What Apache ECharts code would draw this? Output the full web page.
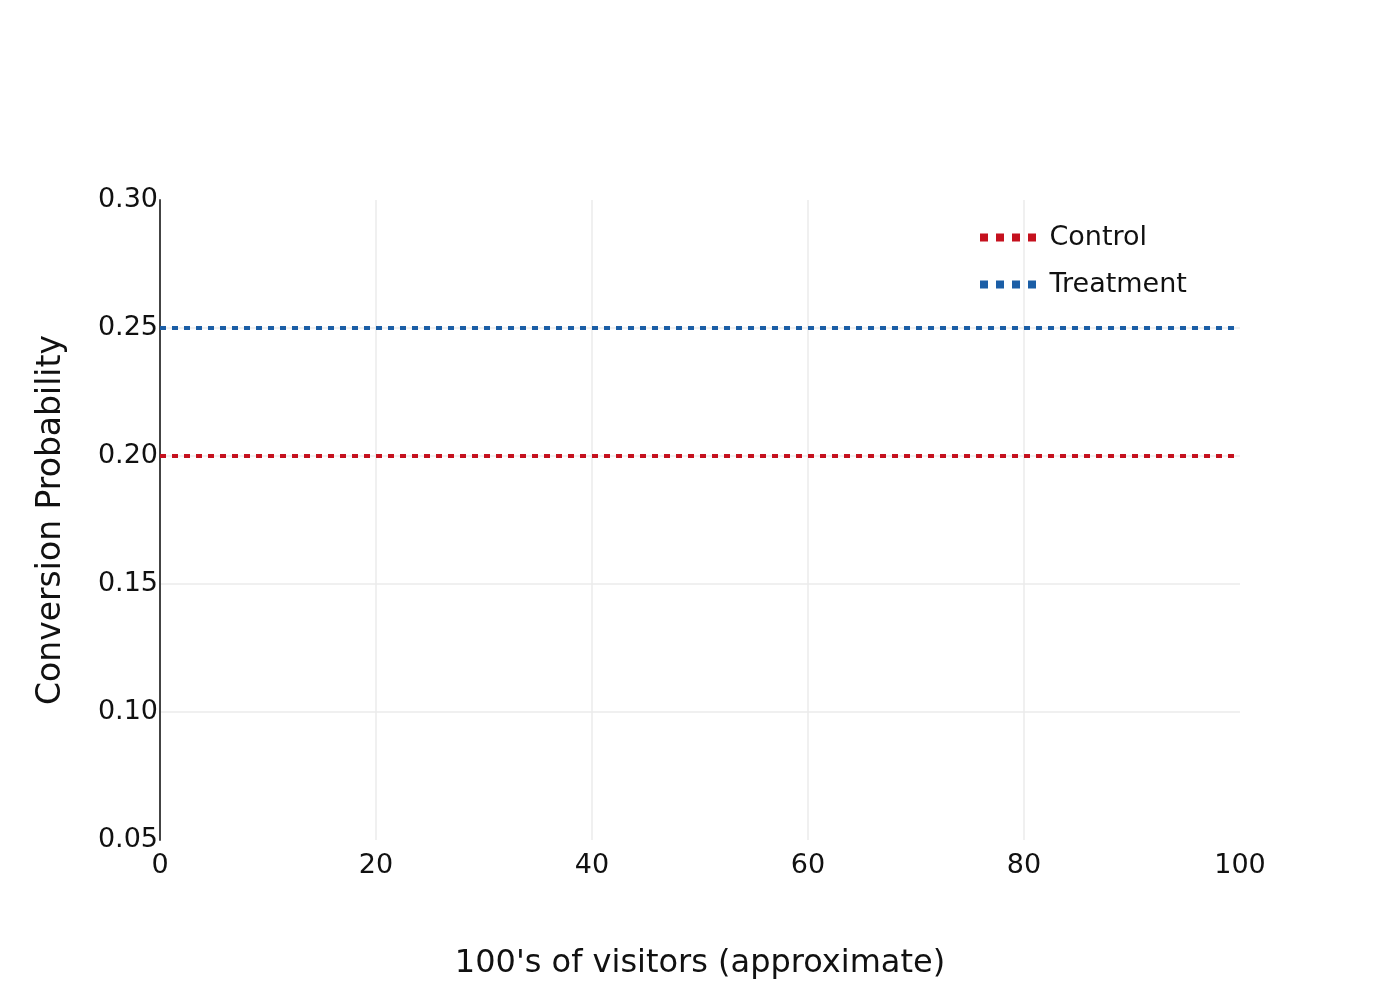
<!DOCTYPE html>
<html>
<head>
<meta charset="utf-8">
<title>Conversion Probability</title>
<script src="https://cdn.jsdelivr.net/npm/echarts@6/dist/echarts.min.js"></script>
<style>
  html, body { margin: 0; padding: 0; background: #fff; }
  #chart { width: 1400px; height: 1000px; }
</style>
</head>
<body>
<div id="chart"></div>
<script>
// --- data ---
const visitors = [0, 100];
const controlValues = [0.2, 0.2];
const treatmentValues = [0.25, 0.25];
const seriesNames = ["Control", "Treatment"];
const yTicks = [0.05, 0.1, 0.15, 0.2, 0.25, 0.3];

const FONT = "DejaVu Sans";
// four little squares, like a dotted line sample
const DOTS_ICON = "path://M0,0h8v8h-8z M16,0h8v8h-8z M32,0h8v8h-8z M48,0h8v8h-8z";

function pairs(xs, ys) {
  return xs.map(function (x, i) { return [x, ys[i]]; });
}

document.addEventListener("DOMContentLoaded", function () {
  const chart = echarts.init(document.getElementById("chart"));
  const option = {
    animation: false,
    textStyle: { fontFamily: FONT, color: "#111" },
    grid: { left: 160, right: 160, top: 200, bottom: 160, containLabel: false },
    legend: {
      data: seriesNames,
      orient: "vertical",
      left: 980,
      top: 224,
      padding: 0,
      icon: DOTS_ICON,
      itemWidth: 57,
      itemHeight: 8,
      itemGap: 20,
      textStyle: { fontFamily: FONT, fontSize: 27, color: "#111", padding: [0, 0, 0, 8] },
    },
    xAxis: {
      type: "value",
      min: 0,
      max: 100,
      interval: 20,
      name: "100's of visitors (approximate)",
      nameLocation: "middle",
      nameGap: 108,
      nameTextStyle: { fontFamily: FONT, fontSize: 32, color: "#111" },
      axisLine: { show: false },
      axisTick: { show: false },
      axisLabel: { fontFamily: FONT, fontSize: 27, color: "#111", margin: 12 },
      splitLine: { show: true, showMaxLine: false, lineStyle: { color: "#ebebeb", width: 1.5 } },
    },
    yAxis: {
      type: "value",
      min: yTicks[0],
      max: yTicks[yTicks.length - 1],
      interval: 0.05,
      name: "Conversion Probability",
      nameLocation: "middle",
      nameGap: 92,
      nameTextStyle: { fontFamily: FONT, fontSize: 33, color: "#111" },
      axisLine: { show: true, lineStyle: { color: "#444", width: 2 } },
      axisTick: { show: false },
      axisLabel: {
        fontFamily: FONT,
        fontSize: 27,
        color: "#111",
        margin: 2,
        formatter: function (v) { return v.toFixed(2); },
      },
      splitLine: { show: true, showMaxLine: false, showMinLine: false, lineStyle: { color: "#ebebeb", width: 1.5 } },
    },
    series: [
      {
        name: seriesNames[0],
        type: "line",
        data: pairs(visitors, controlValues),
        symbol: "none",
        color: "#c5111e",
        lineStyle: { color: "#c5111e", width: 4, type: [6, 6] },
      },
      {
        name: seriesNames[1],
        type: "line",
        data: pairs(visitors, treatmentValues),
        symbol: "none",
        color: "#1b5ea6",
        lineStyle: { color: "#1b5ea6", width: 4, type: [6, 6] },
      },
    ],
  };
  chart.setOption(option);
});
</script>
</body>
</html>
